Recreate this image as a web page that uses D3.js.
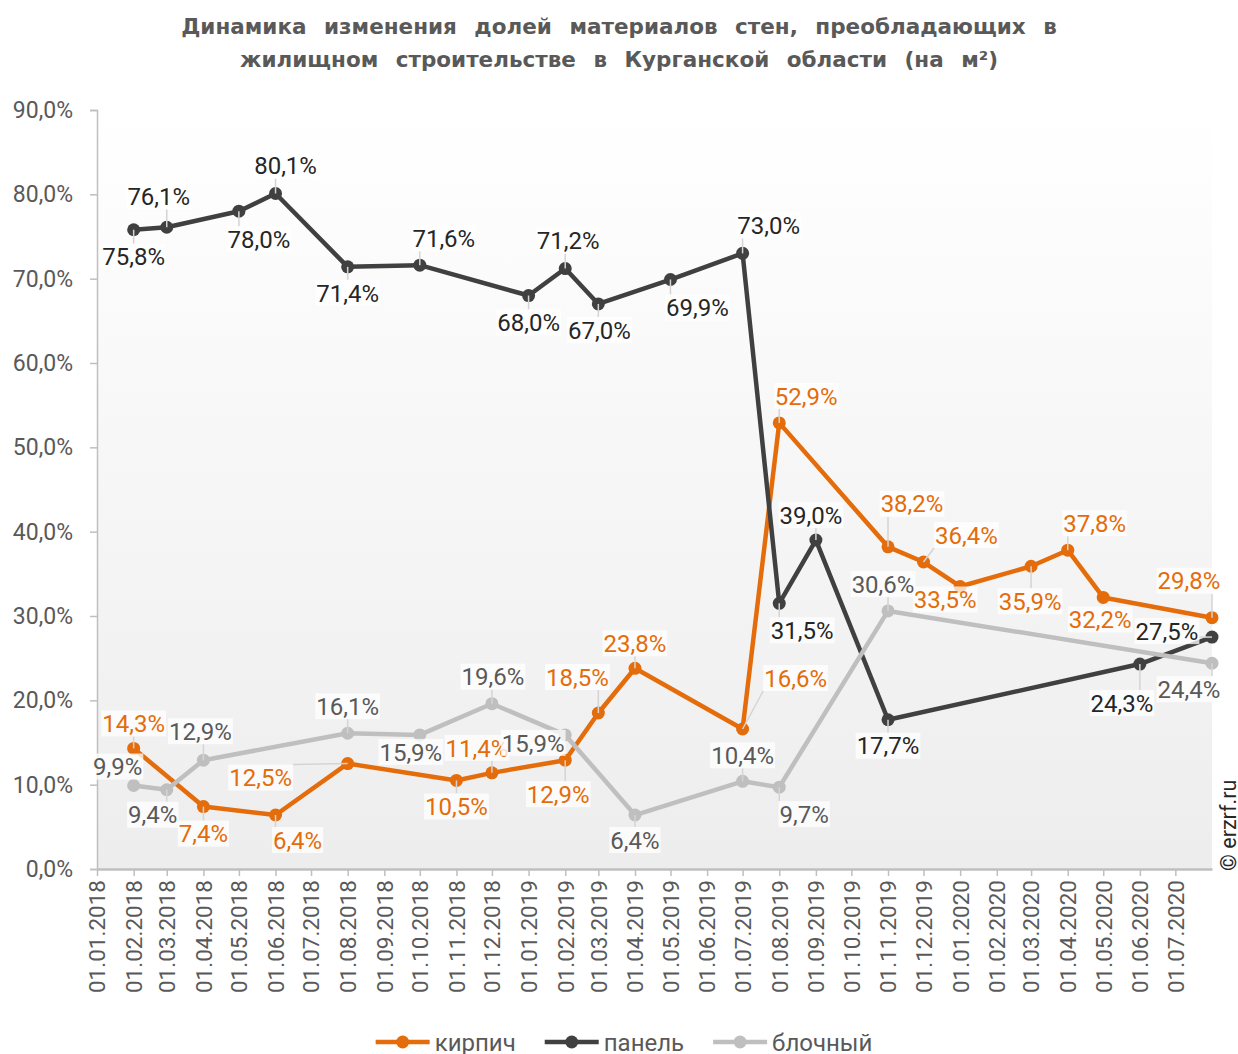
<!DOCTYPE html>
<html>
<head>
<meta charset="utf-8">
<script src="https://cdn.jsdelivr.net/npm/d3@7"></script>
<style>
  html, body { margin: 0; padding: 0; background: #ffffff; }
  svg { display: block; font-family: Roboto, "Noto Sans", sans-serif; }
</style>
</head>
<body>
<svg id="chart" width="1238" height="1054"></svg>
<script>
// ---------- DATA ----------
const titleLines = [
  "Динамика изменения долей материалов стен, преобладающих в",
  "жилищном строительстве в Курганской области (на м²)"
];
const seriesNames = ["кирпич", "панель", "блочный"];

const brickDates = ["2018-02-01","2018-04-01","2018-06-01","2018-08-01","2018-11-01","2018-12-01",
  "2019-02-01","2019-03-01","2019-04-01","2019-07-01","2019-08-01","2019-11-01","2019-12-01",
  "2020-01-01","2020-03-01","2020-04-01","2020-05-01","2020-08-01"];
const brickValues = [14.3, 7.4, 6.4, 12.5, 10.5, 11.4, 12.9, 18.5, 23.8, 16.6, 52.9, 38.2, 36.4,
  33.5, 35.9, 37.8, 32.2, 29.8];

const panelDates = ["2018-02-01","2018-03-01","2018-05-01","2018-06-01","2018-08-01","2018-10-01",
  "2019-01-01","2019-02-01","2019-03-01","2019-05-01","2019-07-01","2019-08-01","2019-09-01",
  "2019-11-01","2020-06-01","2020-08-01"];
const panelValues = [75.8, 76.1, 78.0, 80.1, 71.4, 71.6, 68.0, 71.2, 67.0, 69.9, 73.0, 31.5, 39.0,
  17.7, 24.3, 27.5];

const blockDates = ["2018-02-01","2018-03-01","2018-04-01","2018-08-01","2018-10-01","2018-12-01",
  "2019-02-01","2019-04-01","2019-07-01","2019-08-01","2019-11-01","2020-08-01"];
const blockValues = [9.9, 9.4, 12.9, 16.1, 15.9, 19.6, 15.9, 6.4, 10.4, 9.7, 30.6, 24.4];

const yTicks = [0, 10, 20, 30, 40, 50, 60, 70, 80, 90];
const xTickStart = "2018-01-01", xTickEnd = "2020-07-01";
const xDomain = ["2018-01-01", "2020-08-01"];

// ---------- LABEL PLACEMENT (offsets of label centre from its point, px) ----------
const brickLabelOffsets = [[0,-25],[0,27],[22,25],[-87,14],[0,26],[-15,-25],[-7,34],[-21,-36],[0,-25],
  [53,-51],[27,-27],[24,-43],[43,-27],[-15,13],[-1,35],[27,-27],[-3,22],[-23,-37]];
const panelLabelOffsets = [[0,27],[-8,-31],[20,28],[10,-28],[0,26],[24,-27],[0,27],[3,-28],[1,26],
  [27,28],[26,-28],[23,27],[-5,-25],[0,26],[-18,39],[-45,-6]];
const blockLabelOffsets = [[-16,-19],[-14,25],[-3,-29],[0,-27],[-9,17],[1,-27],[-32,8],[0,25],[0,-26],
  [25,27],[-5,-27],[-23,26]];

// ---------- SETUP ----------
const plot = { left: 97, right: 1212, top: 110, bottom: 869 };
const parse = d3.utcParse("%Y-%m-%d");
const svg = d3.select("#chart");

const x = d3.scaleUtc().domain(xDomain.map(parse)).range([plot.left, plot.right]);
const y = d3.scaleLinear().domain([0, 90]).range([plot.bottom, plot.top]);

const fmt = v => d3.format(".1f")(v).replace(".", ",") + "%";
const fmtDate = d3.utcFormat("%d.%m.%Y");

const series = [
  { name: seriesNames[0], dates: brickDates, values: brickValues, offs: brickLabelOffsets, color: "#E46C0A", text: "#E46C0A" },
  { name: seriesNames[1], dates: panelDates, values: panelValues, offs: panelLabelOffsets, color: "#404040", text: "#262626" },
  { name: seriesNames[2], dates: blockDates, values: blockValues, offs: blockLabelOffsets, color: "#BFBFBF", text: "#595959" }
];

// background gradient
const defs = svg.append("defs");
const grad = defs.append("linearGradient").attr("id", "bg").attr("x1", 0).attr("y1", 0).attr("x2", 0).attr("y2", 1);
grad.append("stop").attr("offset", "0%").attr("stop-color", "#ffffff");
grad.append("stop").attr("offset", "100%").attr("stop-color", "#ededed");
svg.append("rect").attr("x", plot.left).attr("y", plot.top)
  .attr("width", plot.right - plot.left).attr("height", plot.bottom - plot.top)
  .attr("fill", "url(#bg)");

// title
svg.append("g").selectAll("text").data(titleLines).join("text")
  .attr("x", 619).attr("y", (d, i) => 34 + i * 33)
  .attr("text-anchor", "middle")
  .attr("font-family", "'DejaVu Sans', sans-serif")
  .attr("font-size", 21.5).attr("font-weight", "bold")
  .attr("word-spacing", 10)
  .attr("fill", "#595959").text(d => d);

// y axis
const yAxis = d3.axisLeft(y).tickValues(yTicks).tickSize(7).tickFormat(fmt);
const gy = svg.append("g").attr("transform", `translate(${plot.left},0)`).call(yAxis);
gy.select(".domain").attr("stroke", "#bfbfbf").attr("stroke-width", 1.5);
gy.selectAll(".tick line").attr("stroke", "#bfbfbf").attr("stroke-width", 1.5);
gy.selectAll(".tick text").attr("font-size", 23).attr("fill", "#595959")
  .attr("font-family", "Roboto, sans-serif").attr("x", -24);

// x axis
const monthTicks = d3.utcMonth.range(parse(xTickStart), d3.utcDay.offset(parse(xTickEnd), 1));
const xAxis = d3.axisBottom(x).tickValues(monthTicks).tickSize(7).tickFormat(fmtDate).tickSizeOuter(0);
const gx = svg.append("g").attr("transform", `translate(0,${plot.bottom})`).call(xAxis);
gx.select(".domain").attr("stroke", "#bfbfbf").attr("stroke-width", 2.5);
gx.selectAll(".tick line").attr("stroke", "#bfbfbf").attr("stroke-width", 1.5);
gx.selectAll(".tick text").attr("font-size", 22.5).attr("fill", "#595959")
  .attr("font-family", "Roboto, sans-serif")
  .attr("transform", "rotate(-90)")
  .attr("text-anchor", "end").attr("x", -11).attr("y", 0).attr("dy", "0.35em");

// lines and markers
const line = d3.line().x(d => x(d.date)).y(d => y(d.value));
series.forEach(s => {
  s.points = s.dates.map((d, i) => ({ date: parse(d), value: s.values[i], off: s.offs[i] }));
  const g = svg.append("g");
  g.append("path").datum(s.points).attr("d", line)
    .attr("fill", "none").attr("stroke", s.color).attr("stroke-width", 4.5)
    .attr("stroke-linejoin", "round");
  g.selectAll("circle").data(s.points).join("circle")
    .attr("cx", d => x(d.date)).attr("cy", d => y(d.value)).attr("r", 6.5)
    .attr("fill", s.color);
});

// labels
const labelLayer = svg.append("g");
series.forEach(s => {
  s.points.forEach(p => {
    const px = x(p.date), py = y(p.value);
    const cx = px + p.off[0], cy = py + p.off[1];
    const g = labelLayer.append("g");
    const leader = g.append("line");
    const box = g.append("rect");
    const t = g.append("text").attr("x", cx).attr("y", cy).attr("dy", "0.36em")
      .attr("text-anchor", "middle").attr("font-size", 24).attr("fill", s.text).text(fmt(p.value));
    const bb = t.node().getBBox();
    const bx0 = bb.x - 1, bx1 = bb.x + bb.width + 1, by0 = cy - 13, by1 = cy + 13;
    box.attr("x", bx0).attr("y", by0).attr("width", bx1 - bx0).attr("height", by1 - by0)
      .attr("fill", "#ffffff").attr("fill-opacity", 0.75);
    const qx = Math.max(bx0, Math.min(px, bx1)), qy = Math.max(by0, Math.min(py, by1));
    const dist = Math.hypot(qx - px, qy - py);
    if (dist > 9) {
      leader.attr("x1", px).attr("y1", py).attr("x2", qx).attr("y2", qy)
        .attr("stroke", "#d4d4d4").attr("stroke-width", 1.5);
    } else leader.remove();
  });
});

// legend
const legend = svg.append("g");
const items = [];
series.forEach(s => {
  const g = legend.append("g");
  g.append("line").attr("x1", 0).attr("x2", 54).attr("y1", 0).attr("y2", 0)
    .attr("stroke", s.color).attr("stroke-width", 4.5);
  g.append("circle").attr("cx", 27).attr("cy", 0).attr("r", 6.5).attr("fill", s.color);
  const t = g.append("text").attr("x", 59).attr("y", 0).attr("dy", "0.36em")
    .attr("font-size", 24).attr("fill", "#595959").text(s.name);
  const w = 59 + t.node().getComputedTextLength();
  items.push({ g, w });
});
const gap = 29;
const totalW = d3.sum(items, d => d.w) + gap * (items.length - 1);
let lx = 619 - totalW / 2 + 5;
items.forEach(it => { it.g.attr("transform", `translate(${lx},1042)`); lx += it.w + gap; });

// copyright
svg.append("text").attr("transform", "translate(1228,871) rotate(-90)")
  .attr("dy", "0.35em").attr("font-size", 21.5).attr("fill", "#262626").text("© erzrf.ru");
</script>
</body>
</html>
